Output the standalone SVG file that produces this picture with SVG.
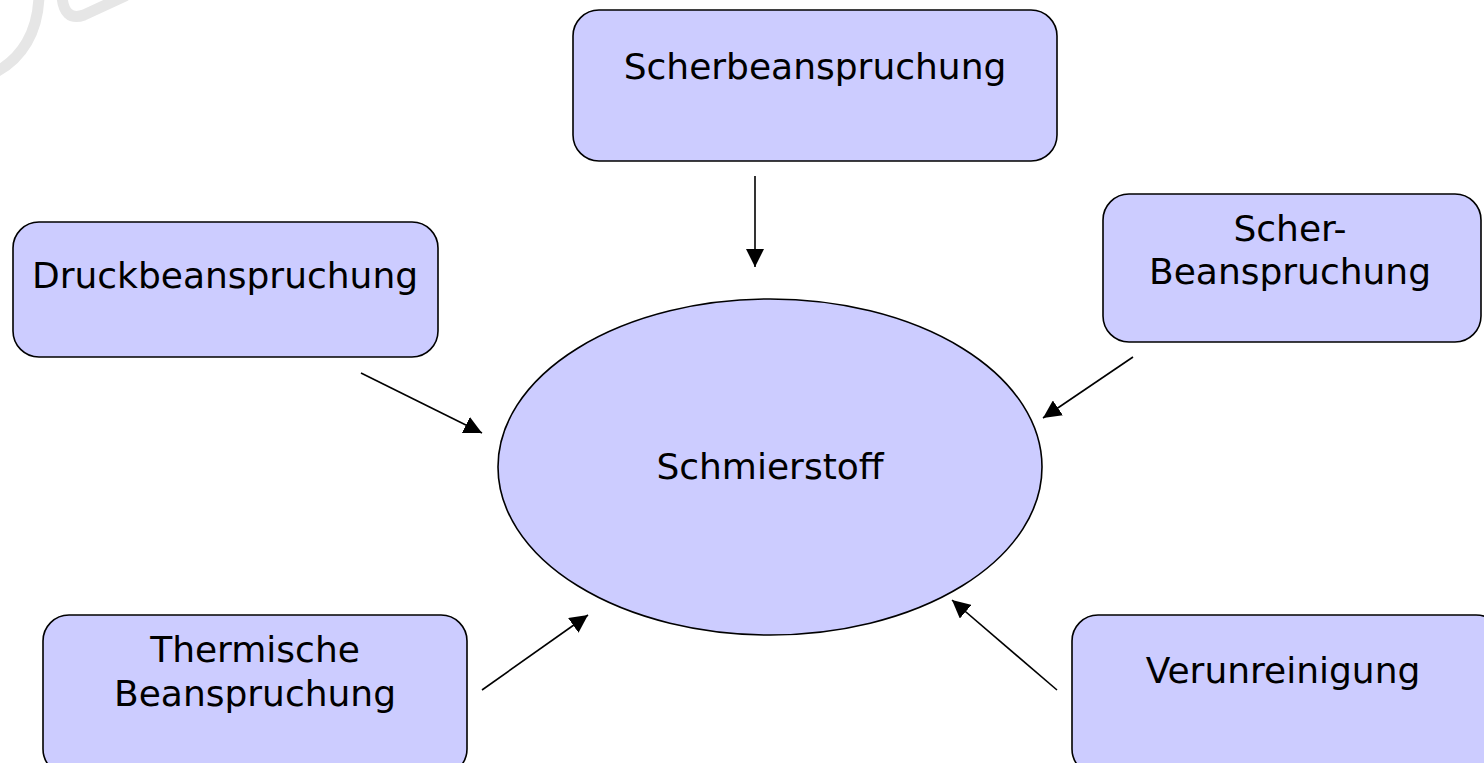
<svg xmlns="http://www.w3.org/2000/svg" width="1484" height="763" viewBox="0 0 1484 763">
<style>
.box{fill:#ccccff;stroke:#000;stroke-width:1.6}
.lbl{font-family:"DejaVu Sans","Liberation Sans",sans-serif;font-size:36px;fill:#000;text-anchor:middle}
.con{stroke:#000;stroke-width:1.6;fill:none;marker-end:url(#ah)}
</style>
<defs>
<marker id="ah" markerUnits="userSpaceOnUse" markerWidth="20" markerHeight="18" refX="18" refY="9" orient="auto">
<path d="M0,0 L18,9 L0,18 Z" fill="#000"/>
</marker>
</defs>
<rect width="1484" height="763" fill="#fff"/>
<g id="watermark" fill="none" stroke="#e6e6e6" stroke-width="11" stroke-linecap="round">
<path d="M-4,72 C22,58 38,32 39,-4"/>
<path d="M62,-4 C63,12 70,20 84,15 L125,-4"/>
</g>
<g id="connectors">
<line class="con" x1="755" y1="176" x2="755" y2="267"/>
<line class="con" x1="361" y1="373" x2="482" y2="433"/>
<line class="con" x1="1133" y1="357" x2="1043" y2="418"/>
<line class="con" x1="482" y1="690" x2="588" y2="615"/>
<line class="con" x1="1057" y1="690" x2="952" y2="600"/>
</g>
<g id="n-schmierstoff">
<ellipse class="box" cx="770" cy="467" rx="272" ry="168"/>
<text class="lbl" x="770" y="479">Schmierstoff</text>
</g>
<g id="n-scherbeanspruchung">
<rect class="box" x="573" y="10" width="484" height="151" rx="26"/>
<text class="lbl" x="815" y="79">Scherbeanspruchung</text>
</g>
<g id="n-druckbeanspruchung">
<rect class="box" x="13" y="222" width="425" height="135" rx="26"/>
<text class="lbl" x="225" y="288">Druckbeanspruchung</text>
</g>
<g id="n-scher-beanspruchung">
<rect class="box" x="1103" y="194" width="378" height="148" rx="26"/>
<text class="lbl" x="1290" y="241">Scher-</text>
<text class="lbl" x="1290" y="284">Beanspruchung</text>
</g>
<g id="n-thermische">
<rect class="box" x="43" y="615" width="424" height="160" rx="26"/>
<text class="lbl" x="255" y="662">Thermische</text>
<text class="lbl" x="255" y="706">Beanspruchung</text>
</g>
<g id="n-verunreinigung">
<rect class="box" x="1072" y="615" width="430" height="160" rx="26"/>
<text class="lbl" x="1283" y="683">Verunreinigung</text>
</g>
</svg>
